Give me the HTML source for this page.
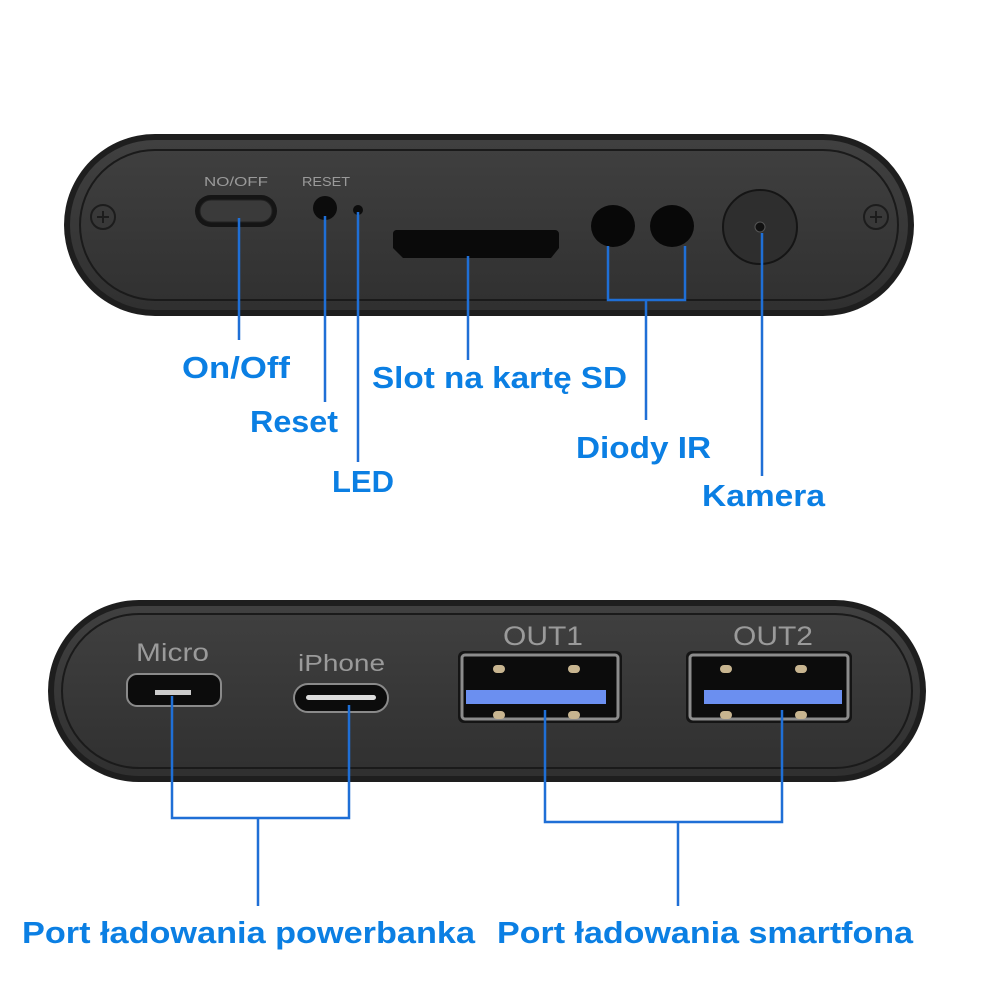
<!DOCTYPE html>
<html><head><meta charset="utf-8"><style>
html,body{margin:0;padding:0;background:#fff;}
svg{display:block}
.l{font-family:"Liberation Sans",sans-serif;font-weight:bold;fill:#0b7fe3;font-size:31px}
.g{font-family:"Liberation Sans",sans-serif;fill:#9a9a9a}
</style></head><body>
<svg width="1000" height="1000" viewBox="0 0 1000 1000" xmlns="http://www.w3.org/2000/svg">
<defs>
<linearGradient id="bd" x1="0" y1="0" x2="0" y2="1">
<stop offset="0" stop-color="#404040"/><stop offset="1" stop-color="#303030"/></linearGradient>
</defs>
<!-- top device -->
<rect x="64" y="134" width="850" height="182" rx="91" fill="#1e1e1e"/>
<rect x="70" y="140" width="838" height="170" rx="85" fill="url(#bd)"/>
<rect x="80" y="150" width="818" height="150" rx="75" fill="none" stroke="#1a1a1a" stroke-width="2"/>
<g stroke="#1c1c1c" stroke-width="2" fill="none">
<circle cx="103" cy="217" r="12"/><path d="M97 217h12M103 211v12"/>
<circle cx="876" cy="217" r="12"/><path d="M870 217h12M876 211v12"/>
</g>
<text x="204" y="186" class="g" font-size="13" textLength="64" lengthAdjust="spacingAndGlyphs">NO/OFF</text>
<text x="302" y="186" class="g" font-size="13" textLength="48" lengthAdjust="spacingAndGlyphs">RESET</text>
<rect x="195" y="195" width="82" height="32" rx="16" fill="#151515"/>
<rect x="200" y="200" width="72" height="22" rx="11" fill="#3a3a3a" stroke="#222" stroke-width="1"/>
<circle cx="325" cy="208" r="12" fill="#0c0c0c"/>
<circle cx="358" cy="210" r="5" fill="#0c0c0c"/>
<path d="M390 230h165a4 4 0 0 1 4 4v14l-8 10h-148l-10-10v-14a4 4 0 0 1 3-4z" fill="#0a0a0a"/>
<ellipse cx="613" cy="226" rx="22" ry="21" fill="#080808"/>
<ellipse cx="672" cy="226" rx="22" ry="21" fill="#080808"/>
<circle cx="760" cy="227" r="37" fill="#2e2e2e" stroke="#151515" stroke-width="2"/>
<circle cx="760" cy="227" r="5" fill="#111" stroke="#555" stroke-width="1"/>
<g stroke="#1f6fd6" stroke-width="2.5" fill="none">
<path d="M239 218V340"/><path d="M325 216V402"/><path d="M358 212V462"/><path d="M468 256V360"/>
<path d="M608 246V300H685V246"/><path d="M646 300V420"/><path d="M762 233V476"/>
</g>
<text x="182" y="378" class="l" textLength="108" lengthAdjust="spacingAndGlyphs">On/Off</text>
<text x="372" y="388" class="l" textLength="255" lengthAdjust="spacingAndGlyphs">Slot na kartę SD</text>
<text x="250" y="432" class="l" textLength="88" lengthAdjust="spacingAndGlyphs">Reset</text>
<text x="576" y="458" class="l" textLength="135" lengthAdjust="spacingAndGlyphs">Diody IR</text>
<text x="332" y="492" class="l" textLength="62" lengthAdjust="spacingAndGlyphs">LED</text>
<text x="702" y="506" class="l" textLength="123" lengthAdjust="spacingAndGlyphs">Kamera</text>
<!-- bottom device -->
<rect x="48" y="600" width="878" height="182" rx="91" fill="#1e1e1e"/>
<rect x="54" y="606" width="866" height="170" rx="85" fill="url(#bd)"/>
<rect x="62" y="614" width="850" height="154" rx="77" fill="none" stroke="#1a1a1a" stroke-width="2"/>
<text x="136" y="661" class="g" font-size="25" textLength="73" lengthAdjust="spacingAndGlyphs">Micro</text>
<text x="298" y="671" class="g" font-size="23" textLength="87" lengthAdjust="spacingAndGlyphs">iPhone</text>
<text x="503" y="645" class="g" font-size="27" textLength="80" lengthAdjust="spacingAndGlyphs">OUT1</text>
<text x="733" y="645" class="g" font-size="27" textLength="80" lengthAdjust="spacingAndGlyphs">OUT2</text>
<rect x="127" y="674" width="94" height="32" rx="10" fill="#0c0c0c" stroke="#8a8a8a" stroke-width="2"/>
<rect x="155" y="690" width="36" height="5" fill="#ccc"/>
<rect x="294" y="684" width="94" height="28" rx="14" fill="#0c0c0c" stroke="#8a8a8a" stroke-width="2"/>
<rect x="306" y="695" width="70" height="5" rx="2.5" fill="#ddd"/>
<rect x="458" y="651" width="164" height="72" rx="6" fill="#151515"/>
<rect x="462" y="655" width="156" height="64" rx="3" fill="#0c0c0c" stroke="#8c8c8c" stroke-width="3"/>
<rect x="466" y="690" width="140" height="14" fill="#6b8ff0"/>
<g fill="#c8b590"><rect x="493" y="665" width="12" height="8" rx="4"/><rect x="568" y="665" width="12" height="8" rx="4"/><rect x="493" y="711" width="12" height="8" rx="4"/><rect x="568" y="711" width="12" height="8" rx="4"/></g>
<rect x="686" y="651" width="166" height="72" rx="6" fill="#151515"/>
<rect x="690" y="655" width="158" height="64" rx="3" fill="#0c0c0c" stroke="#8c8c8c" stroke-width="3"/>
<rect x="704" y="690" width="138" height="14" fill="#6b8ff0"/>
<g fill="#c8b590"><rect x="720" y="665" width="12" height="8" rx="4"/><rect x="795" y="665" width="12" height="8" rx="4"/><rect x="720" y="711" width="12" height="8" rx="4"/><rect x="795" y="711" width="12" height="8" rx="4"/></g>
<g stroke="#1f6fd6" stroke-width="2.5" fill="none">
<path d="M172 696V818H349V705"/><path d="M258 818V906"/>
<path d="M545 710V822H782V710"/><path d="M678 822V906"/>
</g>
<text x="22" y="943" class="l" textLength="453" lengthAdjust="spacingAndGlyphs">Port ładowania powerbanka</text>
<text x="497" y="943" class="l" textLength="416" lengthAdjust="spacingAndGlyphs">Port ładowania smartfona</text>
</svg>
</body></html>
